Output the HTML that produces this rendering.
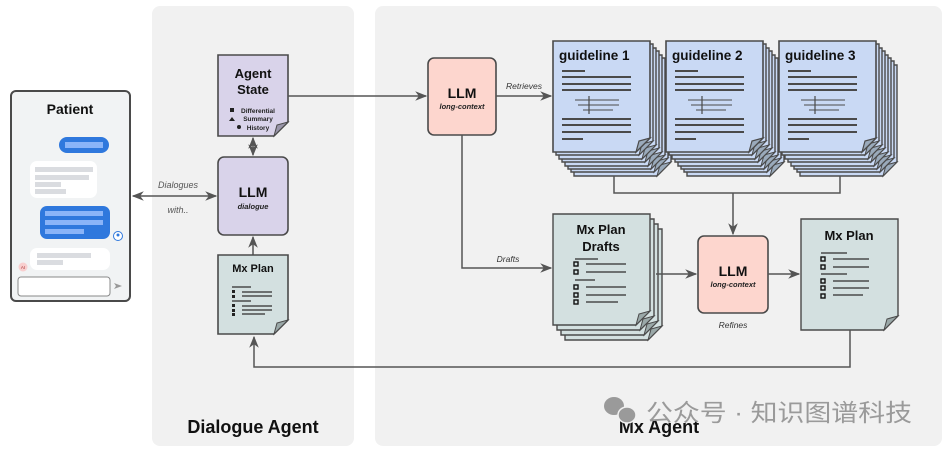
<!DOCTYPE html>
<html><head><meta charset="utf-8"><style>
html,body{margin:0;padding:0;background:#fff;}
svg{display:block;font-family:"Liberation Sans","Noto Sans CJK SC",sans-serif;}
</style></head><body>
<svg width="944" height="451" viewBox="0 0 944 451" xmlns="http://www.w3.org/2000/svg">
<defs>
<marker id="ah" viewBox="0 0 10 10" refX="9" refY="5" markerWidth="8" markerHeight="8" orient="auto-start-reverse"><path d="M0,1 L10,5 L0,9 L3,5 Z" fill="#555"/></marker>
<g id="gdoc">
<path d="M0,0 H97 V97 L83,111 H0 Z" fill="#c9d9f4" stroke="#4a4a4a" stroke-width="1.6"/>
<path d="M83,111 L86,100 L97,97 Z" fill="#9aaabb" stroke="#4a4a4a" stroke-width="1.2"/>
</g>
<g id="gsheet">
<path d="M0,0 H97 V97 L83,111 H0 Z" fill="#c9d9f4" stroke="#4a4a4a" stroke-width="1.4"/>
<path d="M83,111 L86,100 L97,97 Z" fill="#9aaabb" stroke="#4a4a4a" stroke-width="1"/>
</g>
<g id="glines" stroke="#4a4a4a" stroke-width="2">
<line x1="9" y1="30" x2="32" y2="30"/>
<line x1="9" y1="36" x2="78" y2="36"/>
<line x1="9" y1="43" x2="78" y2="43"/>
<line x1="9" y1="49" x2="78" y2="49"/>
<line x1="22" y1="59" x2="66" y2="59" stroke-width="1"/>
<line x1="25" y1="64" x2="66" y2="64" stroke-width="1"/>
<line x1="30" y1="69" x2="60" y2="69" stroke-width="1"/>
<line x1="36" y1="55" x2="36" y2="73" stroke-width="1.2"/>
<line x1="9" y1="78" x2="78" y2="78"/>
<line x1="9" y1="84" x2="78" y2="84"/>
<line x1="9" y1="91" x2="78" y2="91"/>
<line x1="9" y1="98" x2="30" y2="98"/>
</g>
<g id="pdoc">
<path d="M0,0 H97 V97 L83,111 H0 Z" fill="#d3e0e0" stroke="#4a4a4a" stroke-width="1.4"/>
<path d="M83,111 L86,100 L97,97 Z" fill="#9aa8a8" stroke="#4a4a4a" stroke-width="1"/>
</g>
</defs>

<rect x="152" y="6" width="202" height="440" rx="8" fill="#f1f1f1"/>
<rect x="375" y="6" width="567" height="440" rx="8" fill="#f1f1f1"/>
<text x="253" y="433" font-size="18" font-weight="bold" text-anchor="middle" fill="#111">Dialogue Agent</text>
<text x="659" y="433" font-size="18" font-weight="bold" text-anchor="middle" fill="#111">Mx Agent</text>

<rect x="11" y="91" width="119" height="210" rx="5" fill="#f1f3f4" stroke="#4a4a4a" stroke-width="2"/>
<text x="70" y="114" font-size="14" font-weight="bold" text-anchor="middle" fill="#111">Patient</text>
<rect x="59" y="137" width="50" height="16" rx="8" fill="#2f78dd"/>
<rect x="65" y="142" width="38" height="6" fill="#8ab4f8"/>
<rect x="30" y="161" width="67" height="37" rx="7" fill="#fff"/>
<rect x="35" y="167" width="58" height="5" fill="#dadce0"/><rect x="35" y="175" width="54" height="5" fill="#dadce0"/><rect x="35" y="182" width="26" height="5" fill="#dadce0"/><rect x="35" y="189" width="31" height="5" fill="#dadce0"/>
<rect x="40" y="206" width="70" height="33" rx="7" fill="#2f78dd"/>
<rect x="45" y="211" width="58" height="5" fill="#8ab4f8"/><rect x="45" y="220" width="58" height="5" fill="#8ab4f8"/><rect x="45" y="229" width="39" height="5" fill="#8ab4f8"/>
<circle cx="118" cy="236" r="4.5" fill="#fff" stroke="#2f78dd" stroke-width="1"/><circle cx="118" cy="235" r="1.5" fill="#2f78dd"/>
<rect x="30" y="248" width="80" height="22" rx="7" fill="#fff"/>
<rect x="37" y="253" width="54" height="5" fill="#dadce0"/><rect x="37" y="260" width="26" height="5" fill="#dadce0"/>
<circle cx="23" cy="267" r="4.5" fill="#f8cfcf"/><text x="23" y="269" font-size="4.5" text-anchor="middle" fill="#a33">AI</text>
<rect x="18" y="277" width="92" height="19" rx="3" fill="#fff" stroke="#888" stroke-width="1"/>
<path d="M114,283 L122,286 L114,289 L116,286 Z" fill="#999"/>

<line x1="133" y1="196" x2="216" y2="196" stroke="#555" stroke-width="1.5" marker-start="url(#ah)" marker-end="url(#ah)"/>
<text x="178" y="188" font-size="9" font-style="italic" text-anchor="middle" fill="#555">Dialogues</text>
<text x="178" y="213" font-size="9" font-style="italic" text-anchor="middle" fill="#555">with..</text>

<path d="M218,55 H288 V122 L274,136 H218 Z" fill="#d9d3ea" stroke="#4a4a4a" stroke-width="1.6"/>
<path d="M274,136 L277,125 L288,122 Z" fill="#9a96aa" stroke="#4a4a4a" stroke-width="1"/>
<text x="253" y="78" font-size="13" font-weight="bold" text-anchor="middle" fill="#111">Agent</text>
<text x="253" y="94" font-size="13" font-weight="bold" text-anchor="middle" fill="#111">State</text>
<text x="258" y="113" font-size="6.5" font-weight="bold" text-anchor="middle" fill="#222">Differential</text>
<text x="258" y="121" font-size="6.5" font-weight="bold" text-anchor="middle" fill="#222">Summary</text>
<text x="258" y="130" font-size="6.5" font-weight="bold" text-anchor="middle" fill="#222">History</text>
<rect x="230" y="108" width="4" height="4" fill="#222"/>
<path d="M232,117 L235,121 L229,121 Z" fill="#222"/>
<circle cx="239" cy="127" r="2" fill="#222"/>
<line x1="253" y1="138" x2="253" y2="155" stroke="#555" stroke-width="1.5" marker-start="url(#ah)" marker-end="url(#ah)"/>

<rect x="218" y="157" width="70" height="78" rx="6" fill="#d9d3ea" stroke="#4a4a4a" stroke-width="1.6"/>
<text x="253" y="197" font-size="14" font-weight="bold" text-anchor="middle" fill="#111">LLM</text>
<text x="253" y="209" font-size="7.5" font-weight="bold" font-style="italic" text-anchor="middle" fill="#222">dialogue</text>
<line x1="253" y1="255" x2="253" y2="237" stroke="#555" stroke-width="1.5" marker-end="url(#ah)"/>

<path d="M218,255 H288 V320 L274,334 H218 Z" fill="#d3e0e0" stroke="#4a4a4a" stroke-width="1.6"/>
<path d="M274,334 L277,323 L288,320 Z" fill="#9aa8a8" stroke="#4a4a4a" stroke-width="1"/>
<text x="253" y="272" font-size="11" font-weight="bold" text-anchor="middle" fill="#111">Mx Plan</text>
<g stroke="#4a4a4a" stroke-width="1.5">
<line x1="232" y1="287" x2="251" y2="287"/><line x1="242" y1="292" x2="272" y2="292"/><line x1="242" y1="296" x2="272" y2="296"/>
<line x1="232" y1="301" x2="251" y2="301"/><line x1="242" y1="306" x2="272" y2="306"/><line x1="242" y1="310" x2="272" y2="310"/><line x1="242" y1="314" x2="265" y2="314"/>
</g>
<g fill="#222"><rect x="232" y="290" width="3" height="3"/><rect x="232" y="295" width="3" height="3"/><rect x="232" y="304" width="3" height="3"/><rect x="232" y="309" width="3" height="3"/><rect x="232" y="313" width="3" height="3"/></g>

<line x1="288" y1="96" x2="426" y2="96" stroke="#555" stroke-width="1.5" marker-end="url(#ah)"/>

<rect x="428" y="58" width="68" height="77" rx="6" fill="#fdd6ce" stroke="#4a4a4a" stroke-width="1.6"/>
<text x="462" y="98" font-size="14" font-weight="bold" text-anchor="middle" fill="#111">LLM</text>
<text x="462" y="109" font-size="7.5" font-weight="bold" font-style="italic" text-anchor="middle" fill="#222">long-context</text>
<line x1="496" y1="96" x2="551" y2="96" stroke="#555" stroke-width="1.5" marker-end="url(#ah)"/>
<text x="524" y="89" font-size="8.5" font-style="italic" text-anchor="middle" fill="#333">Retrieves</text>
<polyline points="462,135 462,268 551,268" fill="none" stroke="#555" stroke-width="1.5" marker-end="url(#ah)"/>
<text x="508" y="262" font-size="8.5" font-style="italic" text-anchor="middle" fill="#333">Drafts</text>

<g transform="translate(553,41)">
<use href="#gsheet" x="21" y="24"/><use href="#gsheet" x="18" y="20"/><use href="#gsheet" x="15" y="17"/><use href="#gsheet" x="12" y="14"/><use href="#gsheet" x="9" y="10"/><use href="#gsheet" x="6" y="7"/><use href="#gsheet" x="3" y="3"/>
<use href="#gdoc"/><use href="#glines"/>
<text x="6" y="19" font-size="13.5" font-weight="bold" fill="#111">guideline 1</text>
</g>
<g transform="translate(666,41)">
<use href="#gsheet" x="21" y="24"/><use href="#gsheet" x="18" y="20"/><use href="#gsheet" x="15" y="17"/><use href="#gsheet" x="12" y="14"/><use href="#gsheet" x="9" y="10"/><use href="#gsheet" x="6" y="7"/><use href="#gsheet" x="3" y="3"/>
<use href="#gdoc"/><use href="#glines"/>
<text x="6" y="19" font-size="13.5" font-weight="bold" fill="#111">guideline 2</text>
</g>
<g transform="translate(779,41)">
<use href="#gsheet" x="21" y="24"/><use href="#gsheet" x="18" y="20"/><use href="#gsheet" x="15" y="17"/><use href="#gsheet" x="12" y="14"/><use href="#gsheet" x="9" y="10"/><use href="#gsheet" x="6" y="7"/><use href="#gsheet" x="3" y="3"/>
<use href="#gdoc"/><use href="#glines"/>
<text x="6" y="19" font-size="13.5" font-weight="bold" fill="#111">guideline 3</text>
</g>
<polyline points="614,176 614,193 840,193 840,176" fill="none" stroke="#555" stroke-width="1.5"/>
<line x1="733" y1="193" x2="733" y2="234" stroke="#555" stroke-width="1.5" marker-end="url(#ah)"/>

<g transform="translate(553,214)">
<use href="#pdoc" x="12" y="15"/><use href="#pdoc" x="8" y="10"/><use href="#pdoc" x="4" y="5"/><use href="#pdoc"/>
<text x="48" y="20" font-size="13" font-weight="bold" text-anchor="middle" fill="#111">Mx Plan</text>
<text x="48" y="37" font-size="13" font-weight="bold" text-anchor="middle" fill="#111">Drafts</text>
<g stroke="#4a4a4a" stroke-width="1.5">
<line x1="22" y1="45" x2="45" y2="45"/><line x1="33" y1="50" x2="73" y2="50"/><line x1="33" y1="58" x2="73" y2="58"/>
<line x1="22" y1="66" x2="42" y2="66"/><line x1="33" y1="73" x2="73" y2="73"/><line x1="33" y1="81" x2="73" y2="81"/><line x1="33" y1="88" x2="65" y2="88"/>
</g>
<g fill="none" stroke="#111" stroke-width="1.4"><rect x="21" y="48" width="4" height="4"/><rect x="21" y="56" width="4" height="4"/><rect x="21" y="71" width="4" height="4"/><rect x="21" y="79" width="4" height="4"/><rect x="21" y="86" width="4" height="4"/></g>
</g>
<line x1="656" y1="274" x2="696" y2="274" stroke="#555" stroke-width="1.5" marker-end="url(#ah)"/>

<rect x="698" y="236" width="70" height="77" rx="6" fill="#fdd6ce" stroke="#4a4a4a" stroke-width="1.6"/>
<text x="733" y="276" font-size="14" font-weight="bold" text-anchor="middle" fill="#111">LLM</text>
<text x="733" y="287" font-size="7.5" font-weight="bold" font-style="italic" text-anchor="middle" fill="#222">long-context</text>
<text x="733" y="328" font-size="8.5" font-style="italic" text-anchor="middle" fill="#333">Refines</text>
<line x1="768" y1="274" x2="799" y2="274" stroke="#555" stroke-width="1.5" marker-end="url(#ah)"/>

<g transform="translate(801,219)">
<use href="#pdoc"/>
<text x="48" y="21" font-size="13" font-weight="bold" text-anchor="middle" fill="#111">Mx Plan</text>
<g stroke="#4a4a4a" stroke-width="1.5">
<line x1="20" y1="34" x2="46" y2="34"/><line x1="32" y1="40" x2="68" y2="40"/><line x1="32" y1="48" x2="68" y2="48"/>
<line x1="20" y1="55" x2="46" y2="55"/><line x1="32" y1="62" x2="68" y2="62"/><line x1="32" y1="69" x2="68" y2="69"/><line x1="32" y1="76" x2="62" y2="76"/>
</g>
<g fill="none" stroke="#111" stroke-width="1.4"><rect x="20" y="38" width="4" height="4"/><rect x="20" y="46" width="4" height="4"/><rect x="20" y="60" width="4" height="4"/><rect x="20" y="67" width="4" height="4"/><rect x="20" y="75" width="4" height="4"/></g>
</g>
<polyline points="850,330 850,367 254,367 254,337" fill="none" stroke="#555" stroke-width="1.5" marker-end="url(#ah)"/>

<g>
<ellipse cx="614" cy="406" rx="10" ry="9" fill="#9a9a9a"/><ellipse cx="627" cy="415" rx="9" ry="8" fill="#9a9a9a" stroke="#f1f1f1" stroke-width="1.5"/>
<text x="646" y="421" font-size="24" fill="#9a9a9a" textLength="266" lengthAdjust="spacingAndGlyphs">公众号 · 知识图谱科技</text>
</g>
</svg>
</body></html>
